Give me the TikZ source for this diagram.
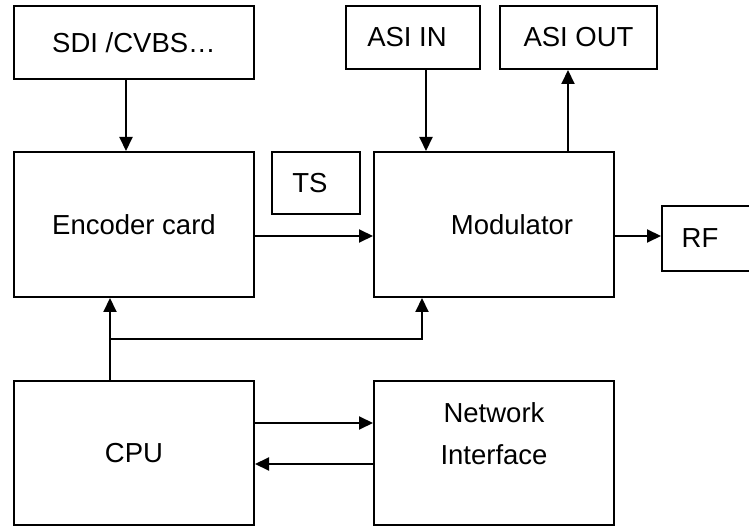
\documentclass[tikz,border=0pt]{standalone}
\usepackage{fontspec}
\setmainfont{Liberation Sans}
\usetikzlibrary{arrows.meta}

\begin{document}
\begin{tikzpicture}[x=1pt,y=-1pt,line width=2pt,>={Triangle[length=14pt,width=13pt]},
        txt/.style={font=\fontsize{27.5}{42}\selectfont,align=center},
        block/.style={draw,line width=2pt,inner sep=0pt,txt}]
        \path[use as bounding box] (0,0) rectangle (749,526);
        \clip (0,0) rectangle (749,526);

        \node[block,minimum width=240pt,minimum height=73pt] (sdi) at (134,42.5) {SDI /CVBS…};
        \node[block,minimum width=134pt,minimum height=63pt,label={[txt,xshift=-6pt]center:ASI IN}] (asiin) at (413,37.5) {};
        \node[block,minimum width=157pt,minimum height=63pt] (asiout) at (578.5,37.5) {ASI OUT};
        \node[block,minimum width=88pt,minimum height=62pt,label={[txt,xshift=-6pt]center:TS}] (ts) at (316,183) {};
        \node[block,minimum width=240pt,minimum height=145pt] (enc) at (134,224.5) {Encoder card};
        \node[block,minimum width=240pt,minimum height=145pt,label={[txt,xshift=18pt]center:Modulator}] (mod) at (494,224.5) {};
        \node[block,minimum width=92pt,minimum height=65pt,label={[txt,xshift=-8pt]center:RF}] (rf) at (708,238.5) {};
        \node[block,minimum width=240pt,minimum height=144pt] (cpu) at (134,453) {CPU};
        \node[block,minimum width=240pt,minimum height=144pt,label={[txt,yshift=19pt]center:Network\\Interface}] (net) at (494,453) {};

        \draw[->] ([xshift=-8pt]sdi.south) -- ([xshift=-8pt]enc.north);
        \draw[->] ([xshift=13pt]asiin.south) -- ([xshift=13pt]asiin.south |- mod.north);
        \draw[->] ([xshift=-10.5pt]asiout.south |- mod.north) -- ([xshift=-10.5pt]asiout.south);
        \draw[->] ([yshift=-11.5pt]enc.east) -- ([yshift=-11.5pt]mod.west);
        \draw[->] ([yshift=-11.5pt]mod.east) -- ([yshift=-11.5pt]mod.east -| rf.west);

        \coordinate (bus) at (110,339);
        \draw[->] ([xshift=-24pt]cpu.north) -- ([xshift=-24pt]enc.south);
        \draw[->] (bus) -| ([xshift=-72pt]mod.south);
        \draw[->] ([yshift=30pt]cpu.east) -- ([yshift=30pt]net.west);
        \draw[->] ([yshift=-11pt]net.west) -- ([yshift=-11pt]cpu.east);
\end{tikzpicture}
\end{document}
